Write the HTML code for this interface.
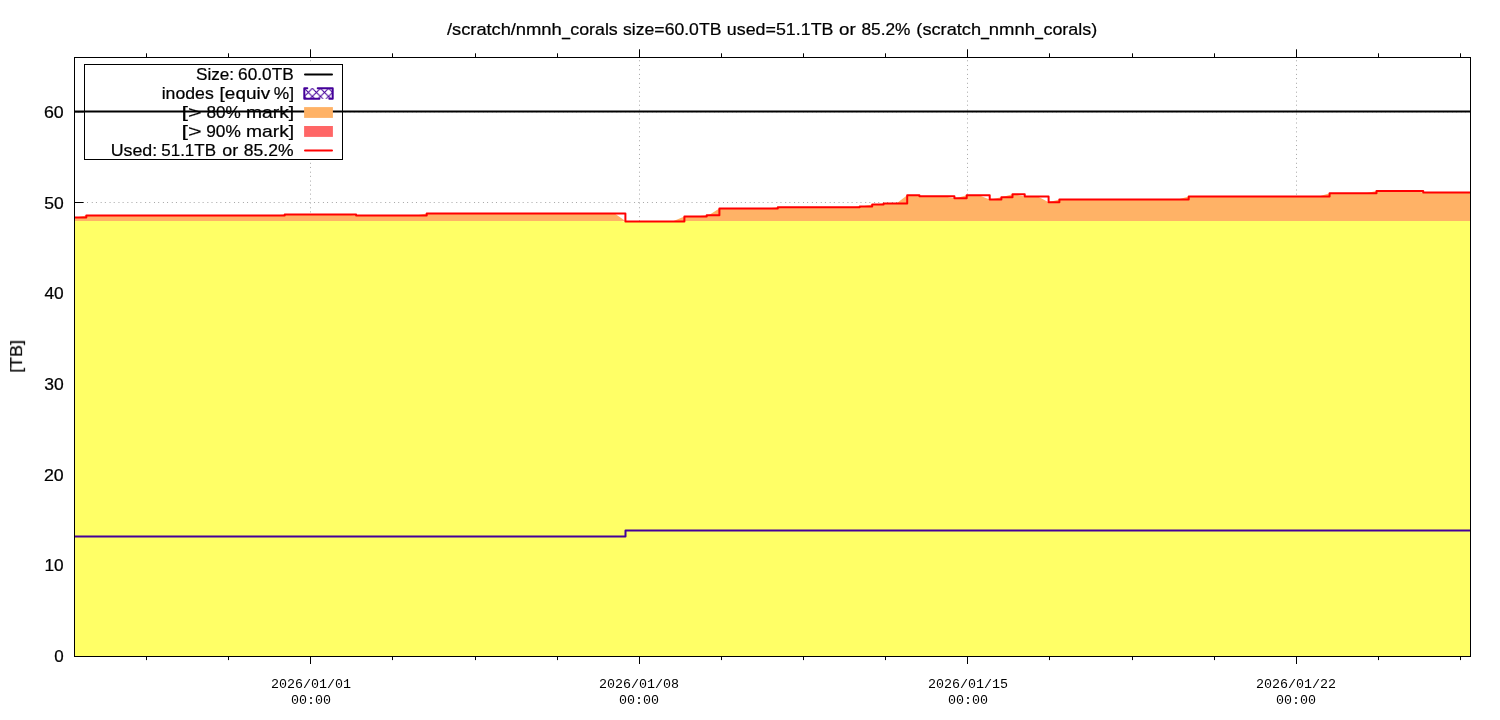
<!DOCTYPE html>
<html><head><meta charset="utf-8"><title>scratch_nmnh_corals</title>
<style>html,body{margin:0;padding:0;background:#fff}body{width:1500px;height:720px;overflow:hidden;font-family:"Liberation Sans",sans-serif}svg{display:block}</style></head>
<body>
<svg width="1500" height="720" viewBox="0 0 1500 720">
<rect width="1500" height="720" fill="#fff"/>
<g stroke="#a6a6a6" stroke-width="1" stroke-dasharray="1 3.15 1 3.74" fill="none">
<path d="M74,111.9H1470.5"/>
<path d="M74,202.5H1470.5"/>
<path d="M74,293.3H1470.5"/>
<path d="M74,384.1H1470.5"/>
<path d="M74,474.8H1470.5"/>
<path d="M74,565.6H1470.5"/>
<path d="M310.5,656.9V57.5"/>
<path d="M639.5,656.9V57.5"/>
<path d="M967.5,656.9V57.5"/>
<path d="M1296.5,656.9V57.5"/>
</g>
<rect x="84.5" y="64.5" width="258" height="95" fill="#fff"/>
<g stroke="#000" stroke-width="1">
<path d="M74.5,111.9h9"/>
<path d="M74.5,202.5h9"/>
<path d="M74.5,293.3h9"/>
<path d="M74.5,384.1h9"/>
<path d="M74.5,474.8h9"/>
<path d="M74.5,565.6h9"/>
</g>
<polygon points="74.5,656.5 74.5,220.2 75.5,220.2 86.3,220.2 273.9,220.2 284.7,220.2 345.3,220.2 356.1,220.2 415.9,220.2 426.7,220.2 614.6,220.2 625.4,221.4 673.6,221.4 684.4,220.2 695.9,220.2 706.7,220.2 708.6,220.2 719.4,220.2 767.0,220.2 777.8,220.2 848.9,220.2 859.7,220.2 861.4,220.2 872.2,220.2 872.8,220.2 883.6,220.2 896.4,220.2 907.2,220.2 908.6,220.2 919.4,220.2 943.6,220.2 954.4,220.2 955.9,220.2 966.7,220.2 978.9,220.2 989.7,220.2 990.6,220.2 1001.4,220.2 1001.7,220.2 1012.5,220.2 1013.9,220.2 1024.7,220.2 1037.8,220.2 1048.6,220.2 1059.4,220.2 1177.9,220.2 1188.7,220.2 1318.8,220.2 1329.6,220.2 1365.7,220.2 1376.5,220.2 1412.4,220.2 1423.2,220.2 1470.5,220.2 1470.5,656.5" fill="#ffff66"/>
<polygon points="74.5,220.9 74.5,217.4 75.5,217.4 86.3,215.4 273.9,215.4 284.7,214.4 345.3,214.4 356.1,215.4 415.9,215.4 426.7,213.4 614.6,213.4 625.4,220.9 673.6,220.9 684.4,216.4 695.9,216.4 706.7,215.3 708.6,215.3 719.4,208.4 767.0,208.4 777.8,207.3 848.9,207.3 859.7,206.5 861.4,206.5 872.2,204.4 872.8,204.4 883.6,203.4 896.4,203.4 907.2,195.3 908.6,195.3 919.4,196.3 943.6,196.3 954.4,198.2 955.9,198.2 966.7,195.3 978.9,195.3 989.7,199.4 990.6,199.4 1001.4,197.3 1001.7,197.3 1012.5,194.2 1013.9,194.2 1024.7,196.5 1037.8,196.5 1048.6,202.3 1059.4,199.5 1177.9,199.5 1188.7,196.4 1318.8,196.4 1329.6,193.3 1365.7,193.3 1376.5,191.1 1412.4,191.1 1423.2,192.6 1470.5,192.6 1470.5,220.9" fill="#ffb266"/>
<path d="M74.5,536.5H625.5V530.5H1470.5" fill="none" stroke="#440099" stroke-width="2" stroke-linejoin="round"/>
<path d="M74.5,111.4H1470.5" stroke="#000" stroke-width="2" fill="none"/>
<path d="M74.5,217.4H86.3V215.4H284.7V214.4H356.1V215.4H426.7V213.4H625.4V221.4H684.4V216.4H706.7V215.3H719.4V208.4H777.8V207.3H859.7V206.5H872.2V204.4H883.6V203.4H907.2V195.3H919.4V196.3H954.4V198.2H966.7V195.3H989.7V199.4H1001.4V197.3H1012.5V194.2H1024.7V196.5H1048.6V202.3H1059.4V199.5H1188.7V196.4H1329.6V193.3H1376.5V191.1H1423.2V192.6H1470.5" fill="none" stroke="#ff0000" stroke-width="2" stroke-linejoin="round"/>
<g stroke="#000" stroke-width="1" fill="none">
<rect x="74.5" y="57.5" width="1396.0" height="599.0"/>
<path d="M310.5,656.5v7.5M310.5,57.5v-8.2"/>
<path d="M639.5,656.5v7.5M639.5,57.5v-8.2"/>
<path d="M967.5,656.5v7.5M967.5,57.5v-8.2"/>
<path d="M1296.5,656.5v7.5M1296.5,57.5v-8.2"/>
<path d="M146.5,656.5v3.6M146.5,57.5v-4.2"/>
<path d="M228.5,656.5v3.6M228.5,57.5v-4.2"/>
<path d="M392.5,656.5v3.6M392.5,57.5v-4.2"/>
<path d="M475.5,656.5v3.6M475.5,57.5v-4.2"/>
<path d="M557.5,656.5v3.6M557.5,57.5v-4.2"/>
<path d="M721.5,656.5v3.6M721.5,57.5v-4.2"/>
<path d="M803.5,656.5v3.6M803.5,57.5v-4.2"/>
<path d="M885.5,656.5v3.6M885.5,57.5v-4.2"/>
<path d="M1049.5,656.5v3.6M1049.5,57.5v-4.2"/>
<path d="M1132.5,656.5v3.6M1132.5,57.5v-4.2"/>
<path d="M1214.5,656.5v3.6M1214.5,57.5v-4.2"/>
<path d="M1378.5,656.5v3.6M1378.5,57.5v-4.2"/>
<path d="M1460.5,656.5v3.6M1460.5,57.5v-4.2"/>
</g>
<g>
<rect x="84.5" y="64.5" width="258" height="95" fill="none" stroke="#000" stroke-width="1"/>
<path d="M305,74.5H332" stroke="#000" stroke-width="2" stroke-linecap="round"/>
<defs><pattern id="hx" patternUnits="userSpaceOnUse" width="8.1" height="8.1" x="304.25" y="88.35"><path d="M-1,-1L9.1,9.1M-1,9.1L9.1,-1" stroke="#440099" stroke-width="1.1" fill="none"/></pattern></defs>
<rect x="304.3" y="88.2" width="28.4" height="10.6" fill="url(#hx)"/>
<path d="M307.3,88.3H304.3V98.7H319.4M317.7,88.3H332.7V98.7H329.3" fill="none" stroke="#440099" stroke-width="2" stroke-linejoin="round" stroke-linecap="round"/>
<rect x="304.1" y="107.1" width="28.8" height="10.8" fill="#ffb266"/>
<rect x="304.1" y="126" width="28.8" height="10.9" fill="#ff6666"/>
<path d="M305,150.5H332" stroke="#ff0000" stroke-width="2" stroke-linecap="round"/>
</g>
<g font-family="'Liberation Sans', sans-serif" font-size="16.6" fill="#000" stroke="#000" stroke-width="0.22" style="filter:grayscale(1)">
<text x="447.00" y="34.7" textLength="68.94" lengthAdjust="spacingAndGlyphs">/scratch/</text>
<text x="515.75" y="34.7" textLength="46.09" lengthAdjust="spacingAndGlyphs">nmnh</text>
<text x="570.24" y="34.7" textLength="47.51" lengthAdjust="spacingAndGlyphs">corals</text>
<text x="623.02" y="34.7" textLength="98.42" lengthAdjust="spacingAndGlyphs">size=60.0TB</text>
<text x="726.89" y="34.7" textLength="106.56" lengthAdjust="spacingAndGlyphs">used=51.1TB</text>
<text x="839.11" y="34.7" textLength="16.68" lengthAdjust="spacingAndGlyphs">or</text>
<text x="861.46" y="34.7" textLength="49.06" lengthAdjust="spacingAndGlyphs">85.2%</text>
<text x="916.35" y="34.7" textLength="64.67" lengthAdjust="spacingAndGlyphs">(scratch</text>
<text x="988.85" y="34.7" textLength="46.19" lengthAdjust="spacingAndGlyphs">nmnh</text>
<text x="1043.44" y="34.7" textLength="53.79" lengthAdjust="spacingAndGlyphs">corals)</text>
<rect x="561.9" y="37.9" width="8.3" height="1.25"/>
<rect x="980.9" y="37.9" width="8.2" height="1.25"/>
<rect x="1034.9" y="37.9" width="8.2" height="1.25"/>
<text x="195.96" y="79.7" textLength="38.19" lengthAdjust="spacingAndGlyphs">Size:</text>
<text x="238.09" y="79.7" textLength="55.63" lengthAdjust="spacingAndGlyphs">60.0TB</text>
<text x="161.70" y="98.7" textLength="52.06" lengthAdjust="spacingAndGlyphs">inodes</text>
<text x="219.62" y="98.7" textLength="50.48" lengthAdjust="spacingAndGlyphs">[equiv</text>
<text x="273.76" y="98.7" textLength="20.27" lengthAdjust="spacingAndGlyphs">%]</text>
<text x="181.55" y="117.7" textLength="20.01" lengthAdjust="spacingAndGlyphs">[&gt;</text>
<text x="206.46" y="117.7" textLength="34.35" lengthAdjust="spacingAndGlyphs">80%</text>
<text x="246.00" y="117.7" textLength="48.14" lengthAdjust="spacingAndGlyphs">mark]</text>
<text x="181.55" y="136.7" textLength="20.01" lengthAdjust="spacingAndGlyphs">[&gt;</text>
<text x="206.19" y="136.7" textLength="34.63" lengthAdjust="spacingAndGlyphs">90%</text>
<text x="246.00" y="136.7" textLength="48.14" lengthAdjust="spacingAndGlyphs">mark]</text>
<text x="110.69" y="155.7" textLength="46.52" lengthAdjust="spacingAndGlyphs">Used:</text>
<text x="161.27" y="155.7" textLength="54.74" lengthAdjust="spacingAndGlyphs">51.1TB</text>
<text x="222.34" y="155.7" textLength="15.95" lengthAdjust="spacingAndGlyphs">or</text>
<text x="243.85" y="155.7" textLength="49.67" lengthAdjust="spacingAndGlyphs">85.2%</text>
<text x="43.97" y="117.8" textLength="19.78" lengthAdjust="spacingAndGlyphs">60</text>
<text x="44.25" y="209.0" textLength="19.48" lengthAdjust="spacingAndGlyphs">50</text>
<text x="44.43" y="299.1" textLength="19.30" lengthAdjust="spacingAndGlyphs">40</text>
<text x="44.25" y="390.0" textLength="19.48" lengthAdjust="spacingAndGlyphs">30</text>
<text x="43.97" y="481.0" textLength="19.78" lengthAdjust="spacingAndGlyphs">20</text>
<text x="44.52" y="571.2" textLength="19.21" lengthAdjust="spacingAndGlyphs">10</text>
<text x="54.27" y="662.0" textLength="9.45" lengthAdjust="spacingAndGlyphs">0</text>
<text transform="translate(22.1,371.7) rotate(-90)" x="-1.12" y="0" textLength="32.88" lengthAdjust="spacingAndGlyphs">[TB]</text>
</g>
<g font-family="'Liberation Mono', monospace" font-size="13.33" fill="#000" text-anchor="middle" style="filter:grayscale(1)">
<text x="311.05" y="688">2026/01/01</text><text x="311.05" y="704">00:00</text>
<text x="639.0" y="688">2026/01/08</text><text x="639.0" y="704">00:00</text>
<text x="968.0" y="688">2026/01/15</text><text x="968.0" y="704">00:00</text>
<text x="1296.1" y="688">2026/01/22</text><text x="1296.1" y="704">00:00</text>
</g>
</svg>
</body></html>
